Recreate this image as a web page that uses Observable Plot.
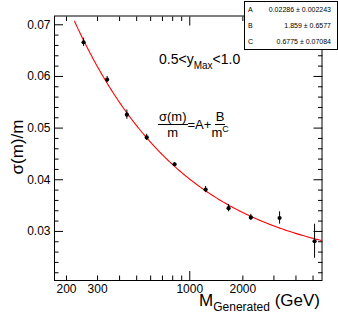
<!DOCTYPE html>
<html><head><meta charset="utf-8">
<script src="https://cdn.jsdelivr.net/npm/d3@7"></script>
<script src="https://cdn.jsdelivr.net/npm/@observablehq/plot@0.6"></script>
<style>
body{margin:0;background:#fff;font-family:"Liberation Sans",Arial,sans-serif;color:#000;}
#wrap{position:relative;width:338px;height:322px;overflow:hidden;}
.ov{position:absolute;white-space:nowrap;line-height:1;}
#ytitle{left:17px;top:147px;font-size:17px;transform:translate(-50%,-50%) rotate(-90deg);}
#xtitle{right:18px;top:292px;font-size:17px;}
#xtitle .sub{font-size:12px;position:relative;top:5px;}
#sel{left:159px;top:51.5px;font-size:14px;}
#sel .sub{font-size:10px;position:relative;top:5px;}
#formula{left:158px;top:110px;font-size:13px;display:flex;align-items:center;}
.frac{display:inline-flex;flex-direction:column;align-items:center;}
.frac .num{border-bottom:1px solid #000;padding:0 1px 1px 1px;}
.frac .den{padding-top:1px;}
.sup{font-size:9px;position:relative;top:-5px;}
#stats{left:244px;top:1px;width:92px;height:47px;border:1px solid #000;background:#fff;font-size:7px;}
#stats .row{position:absolute;left:0;right:0;height:16px;line-height:16px;}
#stats .nm{position:absolute;left:3px;}
#stats .val{position:absolute;right:6px;}
</style></head><body><div id="wrap"></div>
<script>
// ---- data ----
const masses = [250, 340, 440, 570, 820, 1230, 1660, 2220, 3230, 5100];
const sigmaOverM = [0.0666, 0.0594, 0.0526, 0.0482, 0.0430, 0.0381, 0.0345, 0.0327, 0.0326, 0.0281];
const sigmaErr = [0.0008, 0.0006, 0.0009, 0.0006, 0.0003, 0.0006, 0.0007, 0.0006, 0.0012, 0.0033];
const fitNames = ["A", "B", "C"];
const fitValues = ["0.02286", "1.859", "0.6775"];
const fitErrors = ["0.002243", "0.6577", "0.07084"];
const fitRange = [222, 5620];
const xTickLabels = [200, 300, 1000, 2000];
const xMajorTicks = [1000];
const xMinorTicks = [200, 300, 400, 500, 600, 700, 800, 900, 2000, 3000, 4000, 5000];
const yMajorTicks = [0.03, 0.04, 0.05, 0.06, 0.07];
const yMinorTicks = [0.022, 0.024, 0.026, 0.028, 0.032, 0.034, 0.036, 0.038, 0.042, 0.044, 0.046, 0.048,
  0.052, 0.054, 0.056, 0.058, 0.062, 0.064, 0.066, 0.068];

// ---- derived tables ----
const points = masses.map((m, i) => ({m, v: sigmaOverM[i], e: sigmaErr[i]}));
const [A, B, C] = fitValues.map(Number);
const fitCurve = d3.range(0, 301).map(i => {
  const m = fitRange[0] * Math.pow(fitRange[1] / fitRange[0], i / 300);
  return {m, v: A + B / Math.pow(m, C)};
});

const tickStyle = {stroke: "black", fill: "none", label: null, strokeWidth: 1};
const chart = Plot.plot({
  width: 338, height: 322,
  marginLeft: 54, marginRight: 16.5, marginTop: 15.5, marginBottom: 42,
  x: {type: "log", domain: [171, 5620], axis: null},
  y: {domain: [0.0205, 0.0717], axis: null},
  style: {fontFamily: "'Liberation Sans', Arial, sans-serif", fontSize: "12px", color: "black", background: "white"},
  marks: [
    Plot.line(fitCurve, {x: "m", y: "v", stroke: "#ff0000", strokeWidth: 1.1, clip: true}),
    Plot.ruleX(points, {x: "m", y1: d => d.v - d.e, y2: d => d.v + d.e, stroke: "black", strokeWidth: 1}),
    Plot.dot(points, {x: "m", y: "v", r: 2.1, fill: "black"}),
    Plot.frame({stroke: "black", strokeWidth: 1}),
    Plot.axisX(xMajorTicks, {anchor: "bottom", tickSize: -9, ...tickStyle}),
    Plot.axisX(xMinorTicks, {anchor: "bottom", tickSize: -4.5, ...tickStyle}),
    Plot.axisX(xMajorTicks, {anchor: "top", tickSize: -9, ...tickStyle}),
    Plot.axisX(xMinorTicks, {anchor: "top", tickSize: -4.5, ...tickStyle}),
    Plot.axisY(yMajorTicks, {anchor: "left", tickSize: -9, ...tickStyle}),
    Plot.axisY(yMinorTicks, {anchor: "left", tickSize: -4.5, ...tickStyle}),
    Plot.axisY(yMajorTicks, {anchor: "right", tickSize: -9, ...tickStyle}),
    Plot.axisY(yMinorTicks, {anchor: "right", tickSize: -4.5, ...tickStyle}),
    Plot.text(xTickLabels, {x: d => d, text: d => String(d), frameAnchor: "bottom", lineAnchor: "top", dy: 4, fill: "black", fontSize: 12}),
    Plot.axisY(yMajorTicks, {anchor: "left", tickSize: 0, tickPadding: 4, tickFormat: d3.format(".2f"), label: null, fill: "black", fontSize: 12})
  ]
});
const wrap = document.getElementById("wrap");
wrap.appendChild(chart);

function ov(id, html) {
  const d = document.createElement("div");
  d.className = "ov"; d.id = id; d.innerHTML = html;
  wrap.appendChild(d);
  return d;
}
ov("ytitle", "σ(m)/m");
ov("xtitle", 'M<span class="sub">Generated</span> (GeV)');
ov("sel", '0.5&lt;y<span class="sub">Max</span>&lt;1.0');
ov("formula", '<span class="frac"><span class="num">σ(m)</span><span class="den">m</span></span>' +
  '<span>=A+</span>' +
  '<span class="frac"><span class="num">B</span><span class="den">m<span class="sup">C</span></span></span>');
const stats = ov("stats", "");
fitNames.forEach((n, i) => {
  const r = document.createElement("div");
  r.className = "row"; r.style.top = (i * 16) + "px";
  r.innerHTML = `<span class="nm">${n}</span><span class="val">${fitValues[i]} ± ${fitErrors[i]}</span>`;
  stats.appendChild(r);
});
</script>
</body></html>
